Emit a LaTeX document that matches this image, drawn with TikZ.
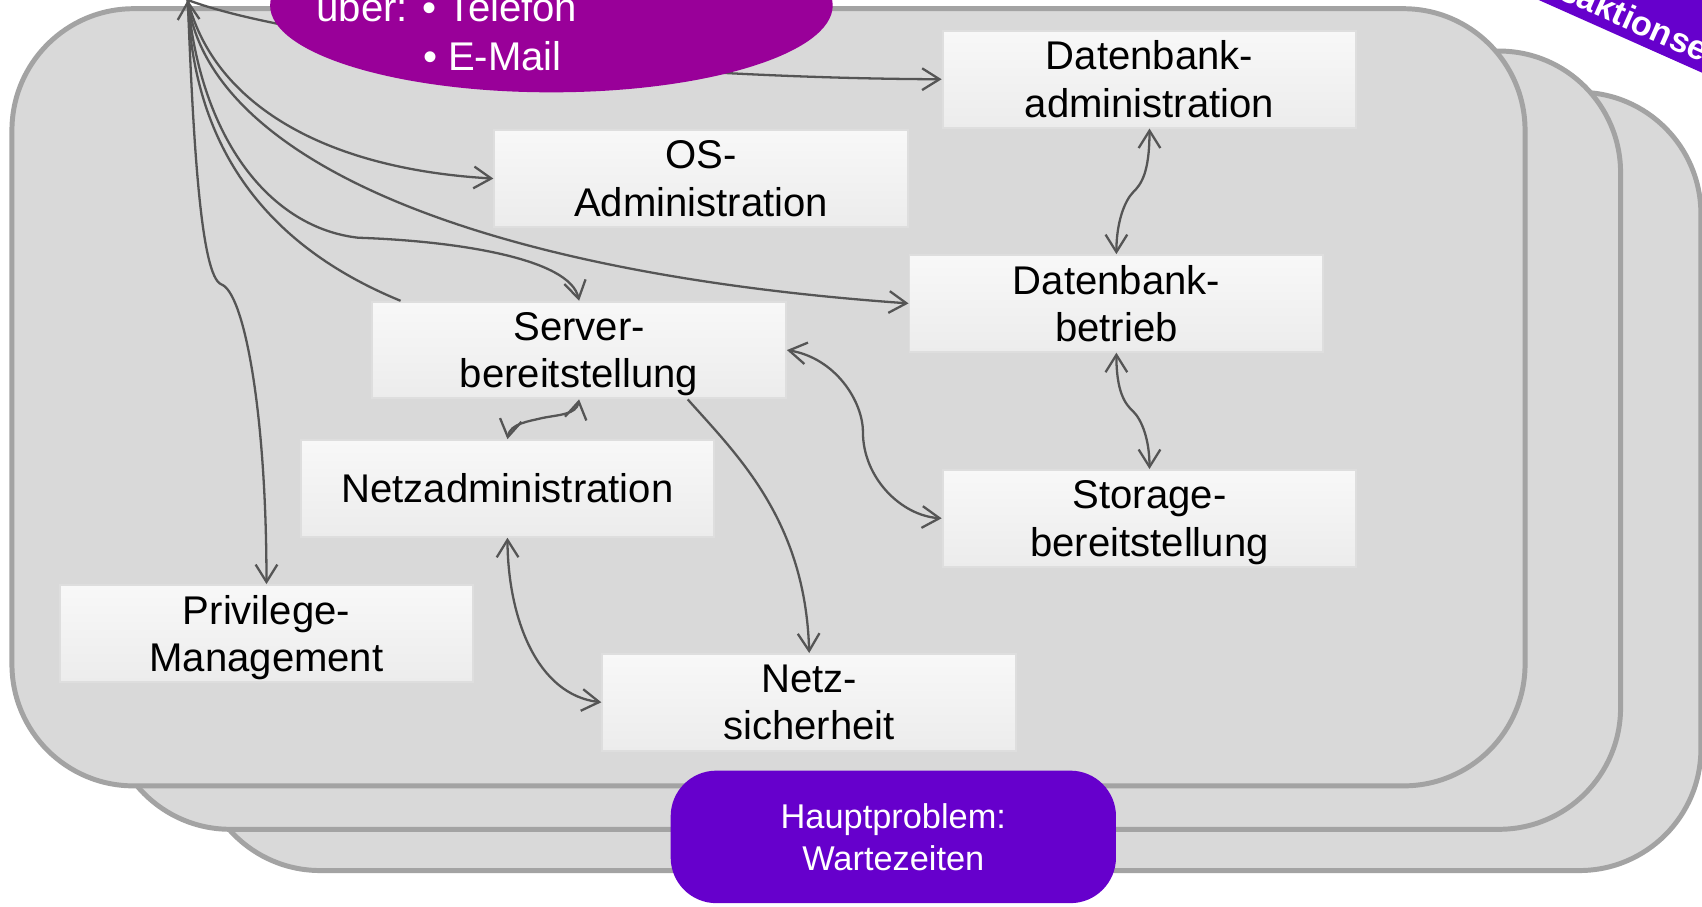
\documentclass[tikz,border=0pt]{standalone}
\usepackage{fontspec}
\setmainfont{Liberation Sans}
\usetikzlibrary{arrows.meta,shapes.geometric}
\definecolor{panelfill}{HTML}{D9D9D9}
\definecolor{panelline}{HTML}{A3A3A3}
\definecolor{boxtop}{HTML}{F8F8F8}
\definecolor{boxbot}{HTML}{ECECEC}
\definecolor{boxline}{HTML}{DEDEDE}
\definecolor{linegray}{HTML}{555555}
\definecolor{ellpurple}{HTML}{990099}
\definecolor{violetbox}{HTML}{6600CC}
\begin{document}
\begin{tikzpicture}[x=0.01cm,y=-0.01cm,
  panel/.style={fill=panelfill, draw=panelline, line width=1.3pt, rounded corners=1.12cm},
  box/.style={top color=boxtop, bottom color=boxbot, draw=boxline, line width=0.5pt,
    minimum width=3.81cm, minimum height=0.89cm, inner sep=0pt, align=center,
    text depth=-1.2pt, font=\fontsize{10.5}{12.5}\selectfont},
  conn/.style={draw=linegray, line width=0.6pt},
  tip/.style={-{Straight Barb[length=1.6mm,width=2mm]}},
  both/.style={{Straight Barb[length=1.6mm,width=2mm]}-{Straight Barb[length=1.6mm,width=2mm]}},
  etext/.style={text=white, inner sep=0pt, font=\fontsize{10.5}{12.5}\selectfont},
  hpbox/.style={fill=violetbox, rounded corners=0.42cm, minimum width=4.1cm, minimum height=1.22cm,
    inner sep=0pt, text=white, align=center, font=\fontsize{9}{11}\selectfont},
  bantext/.style={text=white, inner sep=0pt, font=\fontsize{9}{11}\selectfont\bfseries}
]
\useasboundingbox (0,0) rectangle (1568,835);
\clip (0,0) rectangle (1568,835);
\fill[white] (0,0) rectangle (1568,835);

% banner top right
\begin{scope}[shift={(1452,6)}, rotate=-24]
  \fill[violetbox] (-300,8.5) rectangle (400,-60);
  \node[bantext, anchor=base west, transform shape] (ban) at (-86.5,0) {Transaktionsebene};
\end{scope}

% stacked panels
\draw[panel] (183,85) rectangle (1567,802);
\draw[panel] (100,47) rectangle (1493,764);
\draw[panel] (11,8) rectangle (1405,724);

% boxes
\node[box] (dba)  at (1059,73)    {Datenbank-\\administration};
\node[box] (os)   at (646,164.5)  {OS-\\Administration};
\node[box] (dbb)  at (1028.5,279.5) {Datenbank-\\betrieb};
\node[box] (sto)  at (1059,477.5) {Storage-\\bereitstellung};
\node[box] (srv)  at (533.5,322.5) {Server-\\bereitstellung};
\node[box] (netz) at (467.5,450)  {Netzadministration};
\node[box] (priv) at (245.5,583.5) {Privilege-\\Management};
\node[box] (sich) at (745.5,647)  {Netz-\\sicherheit};

\coordinate (hub) at (173,0);

% connectors from hub
\draw[conn,tip] (hub) .. controls (280,40) and (600,72) .. (dba.west);
\draw[conn,tip] (hub) .. controls (195,90) and (290,155) .. (os.west);
\draw[conn,tip] (hub) .. controls (190,140) and (420,250) .. (dbb.west);
\draw[conn,tip] (hub) .. controls (185,130) and (250,210) .. (330,219)
   .. controls (420,222) and (525,238) .. (srv.north);
\draw[conn,tip] ([xshift=0.27cm]srv.north west) .. controls (230,220) and (178,120) .. (hub);
\draw[conn,tip] (hub) .. controls (178,130) and (185,255) .. (204,262)
   .. controls (225,270) and (245.5,380) .. (priv.north);

% other connectors
\draw[conn,both] (dba.south) .. controls (1059,160) and (1051,170) .. (1044,177)
   .. controls (1036,185) and (1028.5,205) .. (dbb.north);
\draw[conn,both] (dbb.south) .. controls (1028.5,360) and (1036,372) .. (1044,379)
   .. controls (1052,387) and (1059,405) .. (sto.north);
\draw[conn,both] (srv.east) .. controls (770,330) and (795,370) .. (795,398)
   .. controls (795,440) and (830,475) .. (sto.west);
\draw[conn,both] (netz.north) .. controls (470,390) and (488,388) .. (500,385)
   .. controls (515,382) and (531,382) .. (srv.south);
\draw[conn,tip] ([xshift=1cm]srv.south) .. controls (680,420) and (742,480) .. (sich.north);
\draw[conn,both] (netz.south) .. controls (468,570) and (495,640) .. (sich.west);

% ellipse
\node[ellipse, fill=ellpurple, minimum width=5.18cm, minimum height=1.6cm, inner sep=0pt] (ell) at (508,5) {};
\node[etext, anchor=base west] (t1) at (291,20) {über: • Telefon};
\node[etext, anchor=base west] (t2) at (389,64.5) {• E-Mail};

% main problem
\node[hpbox] (hp) at (823,771) {Hauptproblem:\\Wartezeiten};
\end{tikzpicture}
\end{document}
